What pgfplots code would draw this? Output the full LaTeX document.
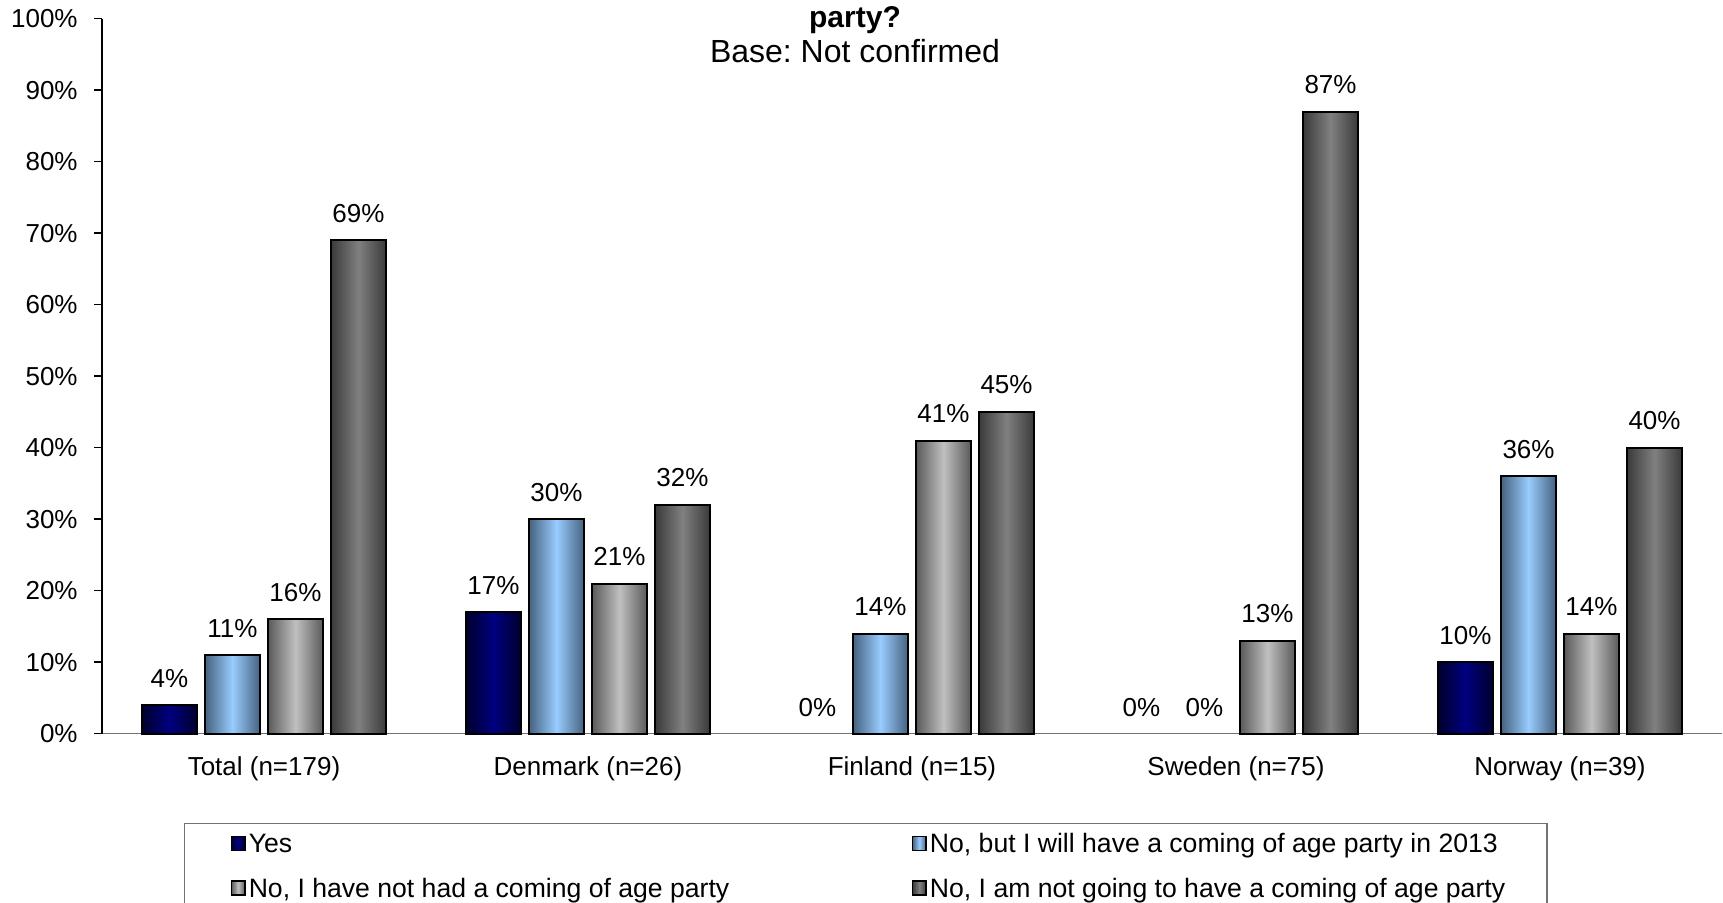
\documentclass[border=0pt]{standalone}
\usepackage{pgfplots}
\pgfplotsset{compat=1.18}
\usepackage{fontspec}
\setmainfont{Liberation Sans}
\definecolor{navyc}{RGB}{0,0,128}
\definecolor{navye}{RGB}{0,0,45}
\definecolor{lbc}{RGB}{153,204,255}
\definecolor{lbe}{RGB}{70,98,128}
\definecolor{lgc}{RGB}{192,192,192}
\definecolor{lge}{RGB}{90,90,90}
\definecolor{dgc}{RGB}{128,128,128}
\definecolor{dge}{RGB}{58,58,58}
\pgfplotsset{
  s1/.style={draw=black, line width=1pt, left color=navye, right color=navye, middle color=navyc, bar shift=-0.2917},
  s2/.style={draw=black, line width=1pt, left color=lbe, right color=lbe, middle color=lbc, bar shift=-0.0972},
  s3/.style={draw=black, line width=1pt, left color=lge, right color=lge, middle color=lgc, bar shift=0.0972},
  s4/.style={draw=black, line width=1pt, left color=dge, right color=dge, middle color=dgc, bar shift=0.2917},
}
\frenchspacing
\begin{document}
\frenchspacing
\begin{tikzpicture}[font=\fontsize{13}{15.6}\selectfont]
\path[use as bounding box] (-51pt,-84.5pt) rectangle (810.5pt,366.85pt);
\begin{axis}[
  at={(0pt,0pt)}, anchor=south west,
  scale only axis, width=810pt, height=357.5pt,
  xmin=-0.5, xmax=4.5, ymin=0, ymax=100,
  clip=false,
  axis x line*=bottom, axis y line*=left,
  x axis line style={draw=black!55, line width=0.8pt, -},
  y axis line style={draw=black, line width=0.8pt, -},
  xtick={0,1,2,3,4},
  xticklabels={{Total (n=179)},{Denmark (n=26)},{Finland (n=15)},{Sweden (n=75)},{Norway (n=39)}},
  xtick style={draw=none},
  ytick={0,10,20,30,40,50,60,70,80,90,100},
  yticklabels={0\%,10\%,20\%,30\%,40\%,50\%,60\%,70\%,80\%,90\%,100\%},
  tick align=outside, major tick length=4pt,
  ytick style={draw=black, line width=0.8pt},
  yticklabel style={inner sep=0pt, xshift=-8pt},
  xticklabel style={anchor=base, inner sep=0pt, yshift=-17pt},
  /pgf/number format/assume math mode=true,
  ybar, bar width=0.17,
  every node near coord/.append style={anchor=base, inner sep=0pt, yshift=9pt, font=\fontsize{13}{15.6}\selectfont},
  nodes near coords={\pgfmathprintnumber[fixed,precision=0]{\pgfplotspointmeta}\%},
  legend columns=2,
  legend style={at={(0.0506,-0.1245)}, anchor=north west, draw=black!55, line width=0.6pt,
    font=\fontsize{13.3}{16}\selectfont,
    inner xsep=23pt, inner ysep=5pt, row sep=9.5pt,
    nodes={inner sep=0pt, text height=9.7pt, text depth=3pt},
    cells={anchor=base west},
    /tikz/every odd column/.append style={column sep=1.5pt}},
  legend image code/.code={\draw[#1, line width=0.8pt] (0pt,1.2pt) rectangle (6.8pt,8.2pt);},
]
% Yes
\addplot[s1] coordinates {(0,4)};
\addlegendentry{\makebox[331.5pt][l]{Yes}}
\addplot[s1, forget plot] coordinates {(1,17)};
\addplot[s1, forget plot] coordinates {(4,10)};
\addplot[s1, draw=none, fill=none, shade=false, forget plot, every node near coord/.append style={yshift=-0.5pt}] coordinates {(2,0) (3,0)};
% No, but ... 2013
\addplot[s2] coordinates {(0,11)};
\addlegendentry{\makebox[285.5pt][l]{No, but I will have a coming of age party in 2013}}
\addplot[s2, forget plot] coordinates {(1,30)};
\addplot[s2, forget plot] coordinates {(2,14)};
\addplot[s2, forget plot] coordinates {(4,36)};
\addplot[s2, draw=none, fill=none, shade=false, forget plot, every node near coord/.append style={yshift=-0.5pt}] coordinates {(3,0)};
% No, not had
\addplot[s3] coordinates {(0,16)};
\addlegendentry{\makebox[331.5pt][l]{No, I have not had a coming of age party}}
\addplot[s3, forget plot] coordinates {(1,21)};
\addplot[s3, forget plot] coordinates {(2,41)};
\addplot[s3, forget plot] coordinates {(3,13)};
\addplot[s3, forget plot] coordinates {(4,14)};
% No, not going
\addplot[s4] coordinates {(0,69)};
\addlegendentry{\makebox[285.5pt][l]{No, I am not going to have a coming of age party}}
\addplot[s4, forget plot] coordinates {(1,32)};
\addplot[s4, forget plot] coordinates {(2,45)};
\addplot[s4, forget plot] coordinates {(3,87)};
\addplot[s4, forget plot] coordinates {(4,40)};
\end{axis}
\node[anchor=base, font=\bfseries\fontsize{15}{18}\selectfont] at (376.5pt,353pt) {party?};
\node[anchor=base, font=\fontsize{16}{19}\selectfont] at (376.5pt,335.7pt) {Base: Not confirmed};
\end{tikzpicture}
\end{document}
